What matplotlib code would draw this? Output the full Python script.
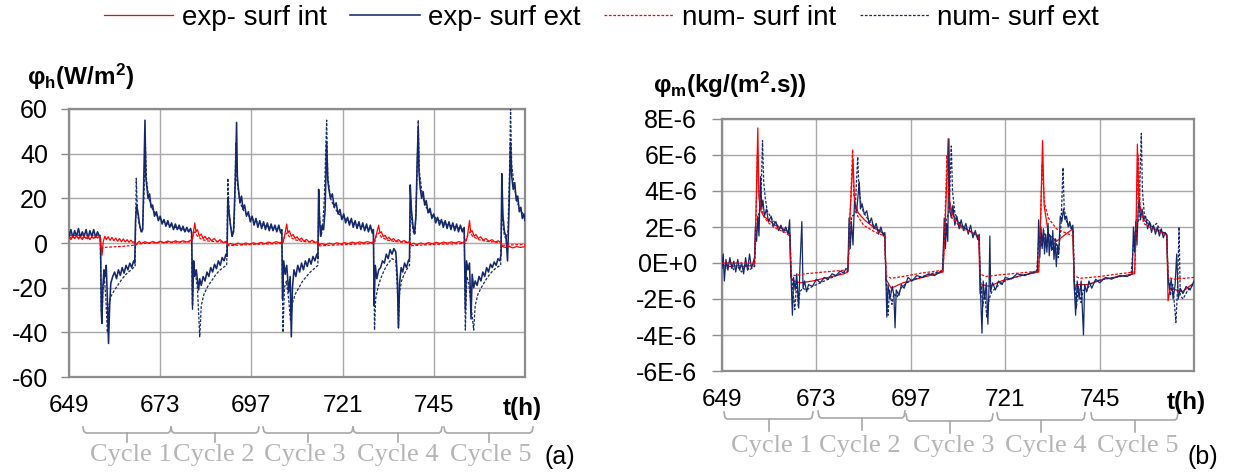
import matplotlib
matplotlib.use('Agg')
import matplotlib.pyplot as plt
from matplotlib.lines import Line2D

plt.rcParams['font.family'] = ['Liberation Sans', 'DejaVu Sans']
plt.rcParams['mathtext.fontset'] = 'custom'
plt.rcParams['mathtext.rm'] = 'Liberation Sans:bold'
plt.rcParams['mathtext.it'] = 'Liberation Sans:bold'
plt.rcParams['mathtext.bf'] = 'Liberation Sans:bold'
plt.rcParams['axes.unicode_minus'] = False

# ---------------- data: panel (a) heat flux (W/m2) ----------------
a_exp_ext = [
    (649.0, 3.0), (649.5, 6.0), (650.0, 2.5), (650.5, 5.5), (651.0, 3.0), (651.5, 6.5), (652.0, 2.5),
    (652.5, 5.0), (653.0, 3.0), (653.5, 6.0), (654.0, 2.0), (654.5, 5.5), (655.0, 3.0), (655.5, 6.0),
    (656.0, 2.5), (656.5, 5.0), (657.0, 3.0),
    (657.3, 2.0), (657.5, -30), (657.65, -36), (657.9, -20), (658.2, -12), (658.5, -15), (658.8, -10),
    (659.1, -25), (659.4, -45), (659.7, -28), (660.0, -18), (660.5, -15), (661.0, -13), (661.5, -16),
    (662.0, -12), (662.5, -14.5), (663.0, -11), (663.5, -13.5), (664.0, -10), (664.5, -12), (665.0, -9),
    (665.5, -11), (666.0, -8), (666.3, -9), (666.5, 10), (666.8, 17), (667.2, 13), (667.6, 8), (668.0, 5),
    (668.4, 6), (668.7, 30), (669.0, 55), (669.2, 30), (669.5, 25), (669.8, 20), (670.2, 22), (670.6, 16),
    (671.0, 17), (671.5, 12), (672.0, 14), (672.5, 10), (673.0, 12), (673.5, 8.5), (674.0, 10.5),
    (674.5, 7.5), (675.0, 10), (675.5, 7), (676.0, 9), (676.5, 6), (677.0, 8.5), (677.5, 6), (678.0, 8),
    (678.5, 5.5), (679.0, 7.5), (679.5, 5), (680.0, 7), (680.5, 5), (681.0, 6.5),
    (681.3, 4.5), (681.5, -28), (681.8, -8), (682.1, -15), (682.5, -12), (683.1, -21), (683.4, -16),
    (683.8, -19), (684.3, -15), (684.8, -17), (685.3, -13), (685.8, -15), (686.3, -11), (686.8, -13),
    (687.3, -9.5), (687.8, -11.5), (688.3, -8), (688.8, -10), (689.3, -6.5), (689.8, -8), (690.3, -5),
    (690.6, -6), (690.8, 20), (691.1, 14), (691.5, 8), (691.9, 3), (692.3, 5), (692.8, 30), (693.1, 54),
    (693.3, 30), (693.6, 24), (694.0, 18), (694.4, 21), (694.8, 15), (695.2, 17), (695.7, 12), (696.2, 14),
    (696.7, 9.5), (697.2, 12), (697.7, 8), (698.2, 11), (698.7, 7), (699.2, 10), (699.7, 6.5), (700.2, 9.5),
    (700.7, 6), (701.2, 9), (701.7, 5.5), (702.2, 8.5), (702.7, 5.5), (703.2, 8), (703.7, 5), (704.2, 8),
    (704.7, 4.5), (705.0, 6),
    (705.2, -25), (705.5, -8), (705.9, -14), (706.3, -10), (706.8, -22), (707.2, -15), (707.5, -42),
    (707.8, -20), (708.2, -12), (708.7, -15), (709.2, -10), (709.7, -13), (710.2, -9), (710.7, -12),
    (711.2, -8), (711.7, -10.5), (712.2, -7), (712.7, -9.5), (713.2, -6), (713.7, -8), (714.2, -5),
    (714.5, -7), (714.7, 24), (714.9, 12), (715.2, 3), (715.6, 8), (716.0, 6), (716.4, 15), (716.8, 45),
    (717.1, 28), (717.4, 24), (717.8, 20), (718.3, 22), (718.8, 16), (719.3, 18), (719.8, 13), (720.3, 15),
    (720.8, 10.5), (721.3, 13), (721.8, 9), (722.3, 11.5), (722.8, 8), (723.3, 11), (723.8, 7), (724.3, 10),
    (724.8, 6.5), (725.3, 9.5), (725.8, 6), (726.3, 9), (726.8, 5.5), (727.3, 8.5), (727.8, 5), (728.3, 8),
    (728.8, 4.5), (729.1, 6),
    (729.3, -28), (729.6, -10), (730.0, -16), (730.5, -12), (731.0, -11), (731.5, -8), (732.0, -9),
    (732.5, -5), (733.0, -7), (733.5, -3), (734.0, -5), (734.5, -2.5), (735.0, -4), (735.4, -15),
    (735.7, -38), (736.0, -18), (736.4, -11), (736.8, -13), (737.3, -9), (737.8, -11), (738.3, -8),
    (738.6, -7), (738.8, 26), (739.1, 15), (739.5, 8), (739.9, 4), (740.3, 12), (740.6, 35), (740.9, 52),
    (741.1, 32), (741.4, 25), (741.8, 20), (742.2, 23), (742.6, 17), (743.0, 19), (743.5, 13.5), (744.0, 15.5),
    (744.5, 11), (745.0, 13), (745.5, 9), (746.0, 11.5), (746.5, 8), (747.0, 10.5), (747.5, 7), (748.0, 10),
    (748.5, 6.5), (749.0, 9.5), (749.5, 6), (750.0, 9), (750.5, 5.5), (751.0, 8.5), (751.5, 5), (752.0, 8),
    (752.5, 5), (753.0, 7),
    (753.3, -30), (753.6, -8), (754.0, -12), (754.4, -9), (754.8, -34), (755.1, -14), (755.5, -20),
    (755.9, -17), (756.4, -19), (756.9, -15), (757.4, -17), (757.9, -13), (758.4, -15), (758.9, -11),
    (759.4, -13), (759.9, -9.5), (760.4, -11), (760.9, -8.5), (761.4, -10), (761.9, -7), (762.4, -8),
    (762.7, -5), (762.9, 31), (763.2, 12), (763.6, 5), (764.0, 3), (764.4, -8), (764.8, 15), (765.2, 45),
    (765.5, 30), (765.9, 24), (766.3, 27), (766.7, 19), (767.1, 21), (767.5, 14), (767.9, 16), (768.3, 11),
    (768.7, 13), (769.0, 10),
]

a_num_ext = [
    (649.0, 3.5), (657.2, 3.5), (657.5, -30), (657.65, -36), (657.9, -22), (658.3, -15), (658.7, -25),
    (659.1, -40), (659.5, -28), (660.0, -24), (661.0, -21), (662.0, -18.5), (663.0, -16), (664.0, -14),
    (665.0, -12.5), (666.0, -11), (666.4, -10.5), (666.7, 29), (667.0, 15), (667.3, 10), (667.8, 6),
    (668.3, 5), (668.7, 20), (669.1, 45), (669.4, 28), (670.0, 20), (671.0, 15), (672.0, 12.5),
    (673.5, 10), (675.0, 8.5), (677.0, 7), (679.0, 6), (681.2, 5),
    (681.5, -30), (681.8, -10), (682.3, -14), (682.8, -20), (683.4, -42), (683.8, -28), (684.5, -23),
    (685.5, -19.5), (686.5, -17), (687.5, -14.5), (688.5, -12.5), (689.5, -11), (690.5, -10), (690.8, 29),
    (691.1, 15), (691.5, 8), (692.0, 3), (692.5, 8), (692.9, 45), (693.2, 28), (694.0, 18), (695.0, 14.5),
    (696.0, 12.5), (697.5, 10.5), (699.0, 9), (701.0, 7.5), (703.0, 6.5), (705.0, 5.5),
    (705.3, -40), (705.7, -20), (706.2, -17), (706.8, -25), (707.3, -35), (707.8, -27), (708.5, -23),
    (709.5, -20), (710.5, -17), (711.5, -15), (712.5, -13), (713.5, -11.5), (714.5, -10), (714.7, 22),
    (715.0, 10), (715.3, 3), (715.7, 6), (716.2, 20), (716.8, 55), (717.1, 30), (717.8, 20), (718.8, 16),
    (720.0, 13), (721.5, 11), (723.0, 9.5), (725.0, 8), (727.0, 7), (729.1, 6),
    (729.4, -39), (729.7, -25), (730.3, -20), (731.0, -16), (732.0, -12), (733.0, -9), (734.0, -7),
    (735.0, -8), (735.4, -20), (735.7, -38), (736.0, -22), (736.5, -17), (737.2, -14), (738.0, -11.5),
    (738.6, -10), (738.9, 20), (739.2, 10), (739.6, 5), (740.1, 4), (740.5, 25), (740.9, 55), (741.2, 32),
    (742.0, 21), (743.0, 16), (744.5, 12.5), (746.0, 10.5), (748.0, 8.5), (750.0, 7.5), (753.0, 6),
    (753.3, -39), (753.7, -15), (754.2, -18), (754.8, -28), (755.5, -39), (755.9, -28), (756.6, -23),
    (757.5, -20), (758.5, -17), (759.5, -14.5), (760.5, -12.5), (761.5, -11), (762.6, -10), (762.9, 20),
    (763.2, 8), (763.6, 3), (764.0, 2), (764.5, 5), (764.9, 30), (765.2, 60), (765.5, 35), (766.2, 25),
    (767.0, 18), (768.0, 14), (769.0, 12),
]

a_exp_int = [
    (649.0, 2.5), (649.5, 1.5), (650.0, 3.0), (650.5, 2.0), (651.0, 3.2), (651.5, 1.8), (652.0, 2.8),
    (652.5, 1.5), (653.0, 3.0), (653.5, 2.0), (654.0, 3.0), (654.5, 1.5), (655.0, 2.8), (655.5, 2.0),
    (656.0, 3.2), (656.5, 2.2), (657.0, 3.0), (657.4, -1.0), (657.7, -5.5), (658.0, 0.5), (658.4, 3.0),
    (658.8, 1.5), (659.3, 2.8), (659.8, 1.2), (660.3, 2.5), (660.8, 1.0), (661.3, 2.2), (661.8, 0.8),
    (662.3, 2.0), (662.8, 0.6), (663.3, 1.8), (663.8, 0.5), (664.3, 1.5), (664.8, 0.3), (665.3, 1.3),
    (665.8, 0.2), (666.3, 0.8), (666.6, -1.0), (667.0, 0.0), (667.5, 0.8), (668.0, -0.3), (669.0, 0.6),
    (670.0, -0.2), (671.0, 0.7), (672.0, 0.0), (673.0, 0.8), (674.0, 0.1), (675.0, 0.9), (676.0, 0.2),
    (677.0, 1.0), (678.0, 0.3), (679.0, 1.0), (680.0, 0.4), (681.0, 1.2),
    (681.5, 2.0), (682.1, 9.0), (682.4, 5.0), (682.8, 6.0), (683.3, 3.0), (683.8, 4.0), (684.3, 2.0),
    (684.8, 3.0), (685.3, 1.5), (685.8, 2.5), (686.5, 1.0), (687.2, 2.0), (688.0, 0.5), (688.8, 1.5),
    (689.6, 0.2), (690.4, 0.8), (690.8, -0.8), (691.5, -0.2), (692.5, -0.8), (693.5, -0.1), (694.5, -0.7),
    (695.5, 0.0), (696.5, -0.6), (697.5, 0.1), (698.5, -0.4), (699.5, 0.3), (700.5, -0.3), (701.5, 0.4),
    (702.5, -0.1), (703.5, 0.6), (704.5, 0.0), (705.2, 0.8),
    (705.6, 2.0), (706.3, 8.5), (706.6, 4.5), (707.0, 5.5), (707.5, 3.0), (708.0, 3.8), (708.5, 2.0),
    (709.0, 2.8), (709.6, 1.3), (710.2, 2.2), (710.8, 0.8), (711.5, 1.6), (712.2, 0.4), (713.0, 1.2),
    (713.8, 0.2), (714.5, 0.7), (714.8, -0.9), (715.5, -0.2), (716.5, -0.8), (717.5, -0.1), (718.5, -0.6),
    (719.5, 0.1), (720.5, -0.5), (721.5, 0.2), (722.5, -0.3), (723.5, 0.4), (724.5, -0.1), (725.5, 0.5),
    (726.5, 0.0), (727.5, 0.6), (728.5, 0.1), (729.2, 0.7),
    (729.6, 2.0), (730.5, 8.0), (730.8, 4.5), (731.2, 5.0), (731.7, 2.8), (732.2, 3.5), (732.7, 1.8),
    (733.2, 2.6), (733.8, 1.2), (734.4, 2.0), (735.0, 0.8), (735.7, 1.5), (736.4, 0.4), (737.2, 1.1),
    (738.0, 0.2), (738.6, 0.6), (738.9, -0.8), (739.6, -0.1), (740.6, -0.7), (741.6, 0.0), (742.6, -0.5),
    (743.6, 0.2), (744.6, -0.4), (745.6, 0.3), (746.6, -0.2), (747.6, 0.4), (748.6, -0.1), (749.6, 0.5),
    (750.6, 0.0), (751.6, 0.6), (752.6, 0.1), (753.2, 0.8),
    (753.8, 2.5), (754.4, 10.0), (754.7, 5.0), (755.1, 5.5), (755.6, 3.0), (756.1, 3.8), (756.7, 2.0),
    (757.3, 2.8), (758.0, 1.3), (758.7, 2.0), (759.5, 0.8), (760.3, 1.5), (761.1, 0.4), (762.0, 1.0),
    (762.7, 0.0), (763.0, -1.5), (763.8, -2.0), (764.8, -1.5), (765.8, -2.2), (766.8, -1.6), (767.8, -2.0),
    (769.0, -1.6),
]

a_num_int = [
    (649.0, 2.5), (657.2, 2.5), (657.5, -3.0), (658.0, -2.0), (660.0, -1.8), (663.0, -1.5), (666.3, -1.0),
    (666.7, -0.5), (670.0, 0.0), (675.0, 0.3), (681.2, 0.5), (681.6, 3.0), (682.1, 5.0), (682.8, 3.0),
    (684.0, 1.5), (686.0, 0.8), (690.5, 0.3), (690.9, -1.2), (694.0, -0.9), (698.0, -0.6), (702.0, -0.4),
    (705.3, -0.2), (705.7, 3.0), (706.3, 4.5), (707.0, 2.8), (708.5, 1.4), (710.5, 0.7), (714.6, 0.2),
    (714.9, -1.3), (718.0, -1.0), (722.0, -0.7), (726.0, -0.4), (729.4, -0.2), (729.8, 3.0), (730.5, 4.5),
    (731.2, 2.7), (732.7, 1.3), (735.0, 0.6), (738.7, 0.2), (739.0, -1.2), (742.0, -0.9), (746.0, -0.6),
    (750.0, -0.4), (753.4, -0.2), (753.8, 3.0), (754.5, 5.0), (755.2, 3.0), (756.8, 1.5), (759.0, 0.7),
    (762.7, 0.2), (763.0, -1.0), (766.0, -0.8), (769.0, -0.6),
]

# ---------------- data: panel (b) mass flux (units of 1E-6 kg/(m2.s)) ----------------
b_exp_ext = [
    (649.0, -0.3), (649.3, 0.5), (649.6, -1.0), (650.0, 0.2), (650.5, -0.4), (651.0, 0.3), (651.5, -0.3),
    (652.0, 0.1), (652.5, -0.5), (653.0, 0.2), (653.5, -0.4), (654.0, 0.0), (654.5, -0.6), (655.0, 0.3),
    (655.5, -0.4), (656.0, 0.5), (656.5, -0.3), (657.0, 0.1),
    (657.3, 0.3), (657.5, 2.0), (657.8, 1.2), (658.1, 2.6), (658.4, 1.5), (658.8, 4.8), (659.1, 3.0),
    (659.4, 3.5), (659.8, 2.6), (660.3, 3.0), (660.8, 2.3), (661.5, 2.6), (662.0, 2.0), (662.7, 2.3),
    (663.4, 1.8), (664.0, 2.1), (664.6, 1.7), (665.2, 2.0), (665.8, 1.6), (666.2, 2.4), (666.5, -0.5),
    (666.9, -2.9), (667.2, -0.8), (667.6, -1.5), (668.0, -0.6), (668.5, -2.5), (668.8, -0.3), (669.3, 2.3),
    (669.6, -1.4), (670.0, -1.0), (670.5, -1.6), (671.0, -1.2), (672.0, -1.3), (673.0, -0.9), (674.0, -1.1),
    (675.0, -0.8), (676.0, -0.9), (677.0, -0.6), (678.0, -0.7), (679.0, -0.45), (680.0, -0.55), (680.5, -0.3),
    (681.0, -0.4),
    (681.3, 2.5), (681.6, 0.8), (681.9, 2.3), (682.3, 1.0), (682.7, 3.5), (683.2, 2.8), (683.9, 4.5),
    (684.2, 3.0), (684.6, 3.3), (685.2, 2.7), (685.8, 2.9), (686.4, 2.2), (687.0, 2.5), (687.6, 1.9),
    (688.2, 2.2), (688.8, 1.6), (689.4, 2.0), (690.0, 1.5), (690.4, 1.7), (690.7, -1.0), (690.9, -3.0),
    (691.2, -1.2), (691.7, -2.0), (692.3, -1.3), (692.7, -1.8), (693.0, -3.6), (693.3, -1.5), (694.0, -1.8),
    (694.6, -1.2), (695.3, -1.4), (696.3, -0.8), (697.3, -1.0), (698.5, -0.7), (700.0, -0.8), (701.5, -0.6),
    (703.0, -0.7), (704.4, -0.5), (705.1, -0.4),
    (705.5, 2.5), (705.8, 0.8), (706.1, 2.2), (706.4, 1.2), (706.7, 6.9), (706.9, 3.0), (707.3, 2.5),
    (707.7, 3.2), (708.2, 2.1), (708.7, 2.6), (709.3, 1.9), (709.8, 2.4), (710.4, 1.8), (711.0, 2.2),
    (711.6, 1.6), (712.2, 2.1), (712.8, 1.4), (713.4, 1.8), (714.0, 1.3), (714.4, 1.6), (714.7, -1.5),
    (715.1, -3.9), (715.4, -1.0), (715.8, -2.0), (716.2, -1.1), (716.6, -3.4), (716.9, -1.2), (717.1, 1.5),
    (717.3, -1.6), (717.8, -1.1), (718.5, -1.5), (719.3, -1.0), (720.2, -1.2), (721.0, -0.8), (722.5, -0.9),
    (724.0, -0.6), (726.0, -0.7), (728.0, -0.5), (729.2, -0.45),
    (729.5, 2.4), (729.8, 0.3), (730.1, 2.0), (730.4, 0.8), (730.7, 1.9), (731.0, 0.5), (731.3, 1.6),
    (731.6, 0.6), (731.9, 2.2), (732.2, 0.4), (732.5, 1.5), (732.8, 0.7), (733.1, 1.8), (733.4, 0.2),
    (733.7, 1.2), (734.0, -0.2), (734.3, 1.0), (734.6, 0.5), (735.0, 2.6), (735.4, 2.3), (735.8, 3.0),
    (736.2, 2.4), (736.6, 2.6), (737.0, 2.0), (737.4, 2.3), (737.8, 1.9), (738.2, 2.1), (738.5, -1.0),
    (738.9, -2.9), (739.3, -1.0), (739.8, -2.0), (740.3, -1.0), (740.9, -4.0), (741.2, -1.2), (741.7, -1.6),
    (742.3, -1.0), (743.0, -1.4), (744.0, -0.9), (745.0, -1.1), (746.5, -0.8), (748.0, -0.9), (750.0, -0.7),
    (752.0, -0.75), (753.3, -0.6),
    (753.6, 2.0), (753.9, 0.6), (754.2, 2.3), (754.5, 1.0), (754.8, 3.0), (755.1, 3.5), (755.4, 2.4),
    (755.8, 3.0), (756.2, 2.4), (756.7, 2.6), (757.2, 1.9), (757.7, 2.3), (758.2, 1.7), (758.7, 2.1),
    (759.2, 1.6), (759.7, 2.0), (760.2, 1.5), (760.7, 1.9), (761.2, 1.4), (761.7, 1.7), (762.1, 1.5),
    (762.4, -0.8), (762.8, -1.5), (763.2, -0.9), (763.7, -2.0), (764.2, -1.2), (764.6, 0.5), (765.0, -2.0),
    (765.5, -1.4), (766.2, -1.7), (767.0, -1.3), (768.0, -1.5), (769.0, -1.0),
]

b_num_ext = [
    (649.0, 0.0), (650.0, -0.3), (651.0, 0.1), (652.0, -0.4), (653.0, -0.2), (654.0, -0.5), (655.0, -0.1),
    (656.0, -0.4), (657.0, -0.2), (657.3, -0.2), (657.6, 1.5), (658.2, 2.5), (658.9, 3.5), (659.3, 6.8),
    (659.6, 4.5), (660.0, 3.6), (660.5, 2.9), (661.5, 2.5), (663.0, 2.1), (665.0, 1.8), (666.3, 1.6),
    (666.6, -0.5), (667.0, -1.5), (667.5, -2.6), (668.0, -1.0), (668.4, -2.4), (668.8, -1.6), (669.5, -1.4),
    (670.5, -1.5), (672.0, -1.3), (674.0, -1.1), (676.0, -0.9), (678.0, -0.7), (680.0, -0.5), (681.0, -0.45),
    (681.4, 1.5), (682.0, 2.6), (682.8, 2.7), (683.5, 5.9), (683.8, 4.2), (684.3, 3.3), (685.0, 2.8),
    (686.5, 2.3), (688.0, 2.0), (690.3, 1.6), (690.7, -0.8), (691.2, -2.9), (691.6, -1.5), (692.2, -2.3),
    (692.7, -1.7), (693.5, -1.9), (694.5, -1.4), (696.0, -1.1), (698.0, -0.9), (700.0, -0.75), (702.0, -0.6),
    (705.0, -0.45), (705.5, 1.5), (706.0, 2.4), (706.7, 2.8), (707.3, 6.5), (707.6, 4.0), (708.2, 2.8),
    (709.0, 2.3), (710.5, 2.0), (712.5, 1.7), (714.3, 1.4), (714.7, -0.8), (715.3, -2.4), (715.8, -1.6),
    (716.3, -3.0), (716.9, -2.0), (717.6, -1.6), (718.5, -1.4), (720.0, -1.1), (722.0, -0.9), (725.0, -0.7),
    (729.0, -0.5), (729.6, 1.5), (730.2, 0.9), (730.8, 1.8), (731.5, 0.8), (732.2, 1.6), (733.0, 0.7),
    (733.8, 1.4), (734.5, 0.3), (735.2, 2.2), (735.7, 5.3), (736.0, 3.0), (736.6, 2.3), (737.5, 2.0),
    (738.3, 1.8), (738.6, -0.9), (739.1, -2.5), (739.6, -1.3), (740.3, -2.2), (740.8, -1.5), (741.6, -1.6),
    (742.5, -1.2), (744.0, -1.0), (746.0, -0.9), (749.0, -0.8), (753.0, -0.65), (753.7, 1.3), (754.3, 2.0),
    (755.0, 2.4), (755.6, 7.2), (755.9, 4.0), (756.4, 2.6), (757.5, 2.3), (758.5, 2.0), (759.5, 2.2),
    (760.5, 1.8), (762.0, 1.6), (762.4, -0.6), (763.0, -1.8), (763.6, -1.2), (764.4, -3.3), (764.8, -1.5),
    (765.2, 2.0), (765.5, -1.8), (766.2, -2.0), (767.2, -1.6), (768.2, -1.3), (769.0, -1.2),
]

b_exp_int = [
    (649.0, -0.1), (651.0, -0.2), (653.0, -0.15), (655.0, -0.2), (657.2, -0.1), (657.6, 2.5), (658.1, 7.5),
    (658.4, 3.6), (658.9, 2.9), (659.6, 2.6), (660.8, 2.4), (662.5, 2.1), (664.5, 1.9), (666.2, 1.7),
    (666.5, -0.8), (667.2, -1.0), (669.0, -1.1), (672.0, -1.0), (676.0, -0.8), (680.0, -0.6), (681.0, -0.5),
    (681.5, 2.5), (682.3, 5.8), (682.7, 3.4), (683.6, 2.8), (685.2, 2.4), (688.0, 1.9), (690.4, 1.6),
    (690.7, -0.9), (692.0, -1.4), (695.0, -1.1), (700.0, -0.8), (705.2, -0.5), (705.8, 2.5), (706.5, 6.9),
    (706.8, 3.5), (707.6, 2.7), (710.0, 2.0), (714.3, 1.5), (714.6, -1.7), (715.2, -1.2), (717.0, -1.3),
    (720.0, -1.0), (725.0, -0.7), (729.5, -0.5), (730.0, 2.5), (730.5, 6.8), (730.9, 3.2), (732.0, 1.6),
    (734.0, 1.2), (738.2, 1.9), (738.6, -1.5), (739.2, -1.2), (742.0, -1.2), (746.0, -0.9), (750.0, -0.75),
    (753.9, -0.6), (754.3, 2.5), (754.6, 6.6), (755.0, 3.3), (756.2, 2.4), (759.0, 1.9), (762.1, 1.6),
    (762.4, -2.1), (763.0, -1.4), (766.0, -1.6), (769.0, -1.1),
]

b_num_int = [
    (649.0, 0.0), (657.2, 0.0), (657.5, 1.0), (658.0, 6.0), (658.3, 4.0), (658.8, 3.2), (659.8, 2.5),
    (661.0, 2.2), (663.0, 1.9), (665.0, 1.7), (666.2, 1.5), (666.6, -0.6), (667.5, -0.7), (670.0, -0.6),
    (675.0, -0.5), (680.0, -0.4), (681.0, -0.35), (681.3, 1.0), (682.2, 6.3), (682.5, 3.8), (683.5, 2.6),
    (685.0, 2.1), (688.0, 1.7), (690.4, 1.5), (690.7, -0.7), (692.0, -0.85), (695.0, -0.75), (700.0, -0.55),
    (705.2, -0.4), (705.5, 1.0), (706.2, 6.0), (706.7, 3.5), (707.5, 2.5), (710.0, 1.9), (714.3, 1.5),
    (714.6, -0.6), (716.0, -0.75), (720.0, -0.65), (725.0, -0.55), (729.5, -0.45), (729.8, 1.0), (730.4, 5.5),
    (731.0, 3.3), (732.0, 2.5), (734.0, 1.9), (738.2, 1.5), (738.5, -0.7), (740.0, -0.85), (745.0, -0.75),
    (750.0, -0.6), (753.9, -0.5), (754.2, 1.0), (754.8, 6.0), (755.3, 3.2), (756.2, 2.2), (759.0, 1.8),
    (762.1, 1.55), (762.4, -0.8), (764.0, -0.9), (769.0, -0.8),
]

x_ticks = [649, 673, 697, 721, 745]
x_labels = ['649', '673', '697', '721', '745']
a_yticks = [-60, -40, -20, 0, 20, 40, 60]
a_ylabels = ['-60', '-40', '-20', '0', '20', '40', '60']
b_yticks = [-6, -4, -2, 0, 2, 4, 6, 8]
b_ylabels = ['-6E-6', '-4E-6', '-2E-6', '0E+0', '2E-6', '4E-6', '6E-6', '8E-6']
legend_labels = ['exp- surf int', 'exp- surf ext', 'num- surf int', 'num- surf ext']
cycle_labels = ['Cycle 1', 'Cycle 2', 'Cycle 3', 'Cycle 4', 'Cycle 5']

# ---------------- layout ----------------
W, H = 1246, 473
fig = plt.figure(figsize=(W / 100, H / 100), dpi=100)


def fx(px):
    return px / W


def fy(py):
    return 1 - py / H


RED = '#ff0000'
NAVY = '#14286e'
GRID = '#a8a8a8'
FRAME = '#8c8c8c'
DASH = (0, (2.2, 1.3))

axA = fig.add_axes([fx(69), fy(377), fx(525) - fx(69), fy(109) - fy(377)])
axB = fig.add_axes([fx(722), fy(371), fx(1194) - fx(722), fy(119) - fy(371)])


def unpack(pairs):
    return [p[0] for p in pairs], [p[1] for p in pairs]


def draw(ax, exp_int, exp_ext, num_int, num_ext, z_exp_int, lw_ext):
    h = {}
    t, v = unpack(num_ext)
    h[3], = ax.plot(t, v, color=NAVY, lw=0.9, ls=DASH, zorder=3)
    t, v = unpack(exp_ext)
    h[1], = ax.plot(t, v, color=NAVY, lw=lw_ext, zorder=4)
    t, v = unpack(num_int)
    h[2], = ax.plot(t, v, color=RED, lw=0.9, ls=DASH, zorder=5)
    t, v = unpack(exp_int)
    h[0], = ax.plot(t, v, color=RED, lw=0.9, zorder=z_exp_int)
    return [h[0], h[1], h[2], h[3]]


handles = draw(axA, a_exp_int, a_exp_ext, a_num_int, a_num_ext, 6, 1.15)
draw(axB, b_exp_int, b_exp_ext, b_num_int, b_num_ext, 2, 0.9)


def style(ax, yticks, ylabels, ylim, tlen, tpad):
    ax.set_xlim(649, 769)
    ax.set_ylim(*ylim)
    ax.set_xticks(x_ticks)
    ax.set_xticklabels(x_labels)
    ax.set_yticks(yticks)
    ax.set_yticklabels(ylabels)
    ax.grid(True, color=GRID, lw=1.0, zorder=0)
    ax.set_axisbelow(True)
    for s in ax.spines.values():
        s.set_color(FRAME)
        s.set_linewidth(1.6)
    ax.tick_params(axis='x', length=0, pad=12.7, labelsize=17.5)
    ax.tick_params(axis='y', length=tlen, width=1.0, color=FRAME, pad=tpad, labelsize=18)


style(axA, a_yticks, a_ylabels, (-60, 60), 5.8, 9.4)
style(axB, b_yticks, b_ylabels, (-6, 8), 7.2, 10.8)

# axis titles
fig.text(fx(27), fy(77), r'φ$_\mathrm{h}$(W/m$^\mathrm{2}$)', ha='left', va='center',
         fontsize=17.5, fontweight='bold')
fig.text(fx(653), fy(85), r'φ$_\mathrm{m}$(kg/(m$^\mathrm{2}$.s))', ha='left', va='center',
         fontsize=17.5, fontweight='bold')
fig.text(fx(522), fy(408), 't(h)', ha='center', va='center', fontsize=17.5, fontweight='bold')
fig.text(fx(1186), fy(402), 't(h)', ha='center', va='center', fontsize=17.5, fontweight='bold')

# cycle braces and labels
BR = '#a8a8a8'
CY = '#b5b5b5'


def brace(x0, x1, y, up, down):
    xm = (x0 + x1) / 2
    xs = [x0, x0 + 1, x0 + 3, x1 - 3, x1 - 1, x1]
    ys = [y - up, y - 1.5, y, y, y - 1.5, y - up]
    fig.add_artist(Line2D([fx(x) for x in xs], [fy(v) for v in ys], color=BR, lw=1.2))
    fig.add_artist(Line2D([fx(xm), fx(xm)], [fy(y), fy(y + down)], color=BR, lw=1.2))


a_brace = [(83, 171), (171, 259), (263, 353), (353, 442), (444, 533)]
a_lab_x = [131, 214, 305, 398, 491]
b_brace = [(724, 813), (818, 905), (906, 993), (997, 1085), (1091, 1178)]
b_brace_y = [419, 418, 421, 420, 420]
b_lab_x = [772, 860, 954, 1046, 1138]

for (x0, x1) in a_brace:
    brace(x0, x1, 433, 6, 9)
for (x0, x1), yy in zip(b_brace, b_brace_y):
    brace(x0, x1, yy, 7, 12)
for x, lab in zip(a_lab_x, cycle_labels):
    fig.text(fx(x), fy(455), lab, ha='center', va='center', fontsize=19,
             family='Liberation Serif', color=CY)
for x, lab in zip(b_lab_x, cycle_labels):
    fig.text(fx(x), fy(446), lab, ha='center', va='center', fontsize=19,
             family='Liberation Serif', color=CY)

fig.text(fx(560), fy(457), '(a)', ha='center', va='center', fontsize=18)
fig.text(fx(1203), fy(457), '(b)', ha='center', va='center', fontsize=18)

fig.legend(handles, legend_labels, loc='center', bbox_to_anchor=(fx(601.5), fy(18)), ncol=4,
           frameon=False, fontsize=20, handlelength=2.5, handletextpad=0.3, columnspacing=0.85,
           borderpad=0, borderaxespad=0)

fig.savefig('out.png', dpi=100)
